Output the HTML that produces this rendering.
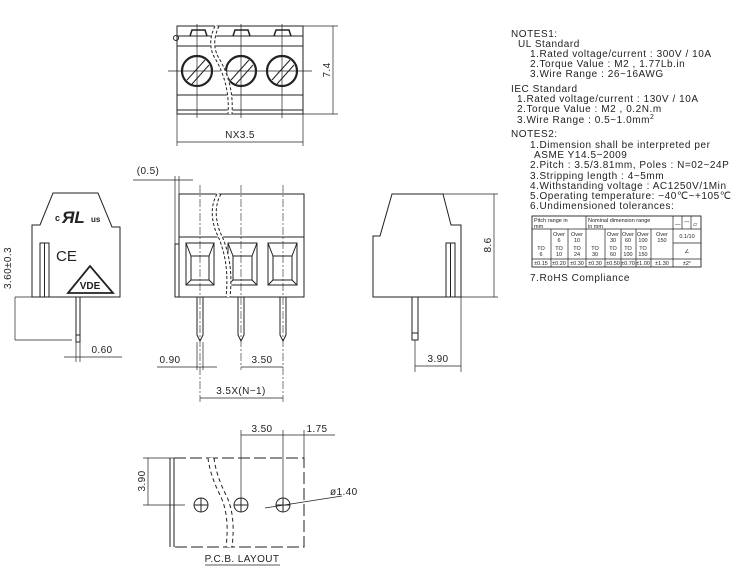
<!DOCTYPE html>
<html><head><meta charset="utf-8"><style>
html,body{margin:0;padding:0;background:#fff;}
svg{display:block;font-family:"Liberation Sans",sans-serif;}
text{fill:#222;}
</style></head><body>
<svg width="744" height="574" viewBox="0 0 744 574" xmlns="http://www.w3.org/2000/svg">
<g stroke="#222" stroke-width="1" fill="none">
<!-- TOP VIEW -->
<rect x="177" y="26" width="126" height="88"/>
<line x1="177" y1="36" x2="303" y2="36"/>
<line x1="177" y1="46" x2="303" y2="46"/>
<line x1="177" y1="95" x2="303" y2="95"/>
<line x1="177" y1="110" x2="303" y2="110"/>
<path d="M190 36 L192 30 L205 30 L207 36 M233 36 L235 30 L248 30 L250 36 M274 36 L276 30 L289 30 L291 36" stroke-width="1.5"/>
<circle cx="197" cy="71" r="15" stroke-width="2.2"/>
<circle cx="241" cy="71" r="15" stroke-width="2.2"/>
<circle cx="282" cy="71" r="15" stroke-width="2.2"/>
<path d="M187 80 L205 60 M192 84 L209 65 M231 80 L249 60 M236 84 L253 65 M272 80 L290 60 M277 84 L294 65"/>
<line x1="168" y1="71" x2="312" y2="71" stroke-width="0.7"/>
<line x1="197" y1="24" x2="197" y2="118" stroke-width="0.7"/>
<line x1="241" y1="24" x2="241" y2="118" stroke-width="0.7"/>
<line x1="282" y1="24" x2="282" y2="118" stroke-width="0.7"/>
<path d="M217 26 Q208 45 218 60 Q232 85 230 114" stroke="#fff" stroke-width="5"/>
<path d="M215 26 Q206 45 216 60 Q230 85 228 114 M219 26 Q210 45 220 60 Q234 85 232 114" stroke-dasharray="3,2"/>
<circle cx="176" cy="38" r="2.5"/>
<line x1="303" y1="26" x2="338" y2="26" stroke-width="0.7"/>
<line x1="303" y1="114" x2="338" y2="114" stroke-width="0.7"/>
<line x1="333" y1="26" x2="333" y2="114" stroke-width="0.7"/>
<line x1="177" y1="114" x2="177" y2="146" stroke-width="0.7"/>
<line x1="303" y1="114" x2="303" y2="146" stroke-width="0.7"/>
<line x1="177" y1="142" x2="303" y2="142" stroke-width="0.7"/>

<!-- LEFT VIEW -->
<path d="M53 193 L98 193 L112 227 L120 227 L120 297 L32 297 L32 225 L40 225 Z"/>
<rect x="40" y="243" width="9" height="54"/>
<line x1="44.5" y1="243" x2="44.5" y2="297"/>
<rect x="76" y="297" width="4" height="45"/>
<line x1="76" y1="335" x2="80" y2="335"/>
<line x1="15" y1="297" x2="32" y2="297" stroke-width="0.7"/>
<line x1="15" y1="340" x2="72" y2="340" stroke-width="0.7"/>
<line x1="15" y1="297" x2="15" y2="340" stroke-width="0.7"/>
<line x1="76" y1="342" x2="76" y2="362" stroke-width="0.7"/>
<line x1="80" y1="342" x2="80" y2="362" stroke-width="0.7"/>
<line x1="64" y1="357" x2="122" y2="357" stroke-width="0.7"/>
<path d="M68 293 L90 266 L113 293 Z" stroke-width="1.8"/>

<!-- MIDDLE VIEW -->
<rect x="179" y="194" width="125" height="103"/>
<line x1="179" y1="237" x2="304" y2="237"/>
<rect x="175" y="244" width="4" height="53"/>
<g>
<rect x="186" y="243" width="28" height="42"/><rect x="191" y="256" width="18" height="24"/>
<path d="M186 243 L191 256 M214 243 L209 256 M186 285 L191 280 M214 285 L209 280"/>
<rect x="228" y="243" width="29" height="42"/><rect x="233" y="256" width="19" height="24"/>
<path d="M228 243 L233 256 M257 243 L252 256 M228 285 L233 280 M257 285 L252 280"/>
<rect x="268" y="243" width="29" height="42"/><rect x="273" y="256" width="19" height="24"/>
<path d="M268 243 L273 256 M297 243 L292 256 M268 285 L273 280 M297 285 L292 280"/>
</g>
<path d="M197 297 L197 335 L200 341 L203 335 L203 297 M238 297 L238 335 L241 341 L244 335 L244 297 M280 297 L280 335 L283 341 L286 335 L286 297"/>
<path d="M219 194 Q210 210 218 232 Q232 260 228 297" stroke="#fff" stroke-width="5"/>
<path d="M217 194 Q208 210 216 232 Q230 260 226 297 M221 194 Q212 210 220 232 Q234 260 230 297" stroke-dasharray="3,2"/>
<line x1="200" y1="185" x2="200" y2="402" stroke-width="0.6" stroke-dasharray="8,2,2,2"/>
<line x1="241" y1="185" x2="241" y2="370" stroke-width="0.6" stroke-dasharray="8,2,2,2"/>
<line x1="283" y1="185" x2="283" y2="402" stroke-width="0.6" stroke-dasharray="8,2,2,2"/>
<line x1="175" y1="176" x2="175" y2="244" stroke-width="0.7"/>
<line x1="179" y1="176" x2="179" y2="194" stroke-width="0.7"/>
<line x1="133" y1="180" x2="193" y2="180" stroke-width="0.7"/>
<line x1="157" y1="367" x2="217" y2="367" stroke-width="0.7"/>
<line x1="197" y1="342" x2="197" y2="370" stroke-width="0.7"/>
<line x1="203" y1="342" x2="203" y2="370" stroke-width="0.7"/>
<line x1="241" y1="367" x2="283" y2="367" stroke-width="0.7"/>
<line x1="200" y1="398" x2="283" y2="398" stroke-width="0.7"/>

<!-- RIGHT VIEW -->
<path d="M392 194 L443 194 L451 225 L461 225 L461 297 L373 297 L373 236 L380 236 Z"/>
<rect x="446" y="243" width="9" height="54"/>
<line x1="450.5" y1="243" x2="450.5" y2="297"/>
<rect x="412" y="297" width="6" height="43"/>
<line x1="412" y1="333" x2="418" y2="333"/>
<line x1="443" y1="194" x2="498" y2="194" stroke-width="0.7"/>
<line x1="461" y1="297" x2="498" y2="297" stroke-width="0.7"/>
<line x1="494" y1="194" x2="494" y2="297" stroke-width="0.7"/>
<line x1="415" y1="340" x2="415" y2="372" stroke-width="0.7"/>
<line x1="461" y1="297" x2="461" y2="372" stroke-width="0.7"/>
<line x1="415" y1="366" x2="461" y2="366" stroke-width="0.7"/>

<!-- PCB LAYOUT -->
<path d="M174 458 L304 458 L304 547 L174 547" stroke-dasharray="12,4"/>
<line x1="170" y1="458" x2="170" y2="547"/>
<line x1="174" y1="458" x2="174" y2="547"/>
<path d="M210 458 Q212 475 222 495 Q232 515 228 547" stroke="#fff" stroke-width="6"/>
<path d="M208 458 Q210 475 220 495 Q230 515 226 547 M214 458 Q216 475 226 495 Q236 515 232 547" stroke-dasharray="4,3"/>
<circle cx="201" cy="505" r="7"/><path d="M194 505 H208 M201 498 V512"/>
<circle cx="241" cy="505" r="7"/><path d="M234 505 H248 M241 498 V512"/>
<circle cx="283" cy="505" r="7"/><path d="M276 505 H290 M283 498 V512"/>
<line x1="241" y1="430" x2="241" y2="498" stroke-width="0.7"/>
<line x1="283" y1="430" x2="283" y2="498" stroke-width="0.7"/>
<line x1="304" y1="430" x2="304" y2="458" stroke-width="0.7"/>
<line x1="241" y1="435" x2="335" y2="435" stroke-width="0.7"/>
<line x1="143" y1="458" x2="174" y2="458" stroke-width="0.7"/>
<line x1="143" y1="505" x2="185" y2="505" stroke-width="0.7"/>
<line x1="148" y1="458" x2="148" y2="505" stroke-width="0.7"/>
<line x1="265" y1="508" x2="342" y2="496" stroke-width="0.7"/>
<line x1="205" y1="565" x2="280" y2="565" stroke-width="0.7"/>

<!-- TABLE -->
<rect x="532" y="216" width="169" height="51" stroke-width="0.9"/>
<path d="M532 229 H673 M532 259 H701 M673 229 H701 M673 243 H701 M586 216 V267 M673 216 V267 M551 229 V267 M568 229 V267 M605 229 V267 M621 229 V267 M636 229 V267 M651 229 V267 M682 216 V229 M691 216 V229" stroke-width="0.7"/>
</g>

<g fill="#222" font-size="10" letter-spacing="0.4">
<text x="240" y="138" text-anchor="middle">NX3.5</text>
<text transform="translate(330,70) rotate(-90)" text-anchor="middle">7.4</text>
<text transform="translate(11,268) rotate(-90)" text-anchor="middle">3.60±0.3</text>
<text x="102" y="353" text-anchor="middle">0.60</text>
<text x="148" y="174" text-anchor="middle">(0.5)</text>
<text x="170" y="363" text-anchor="middle">0.90</text>
<text x="262" y="363" text-anchor="middle">3.50</text>
<text x="241" y="394" text-anchor="middle">3.5X(N−1)</text>
<text transform="translate(491,245) rotate(-90)" text-anchor="middle">8.6</text>
<text x="438" y="362" text-anchor="middle">3.90</text>
<text x="262" y="432" text-anchor="middle">3.50</text>
<text x="317" y="432" text-anchor="middle">1.75</text>
<text transform="translate(145,481) rotate(-90)" text-anchor="middle">3.90</text>
<text x="330" y="495">ø1.40</text>
<text x="242" y="562" text-anchor="middle">P.C.B. LAYOUT</text>
</g>
<g fill="#222">
<text x="55" y="221" font-size="9" font-weight="bold">c</text>
<text x="62" y="223" font-size="17" font-weight="bold" font-style="italic">ЯL</text>
<text x="91" y="222" font-size="8" font-weight="bold">us</text>
<text x="56" y="261" font-size="15">CE</text>
<text x="90" y="289" font-size="10" font-weight="bold" text-anchor="middle">VDE</text>
</g>

<g fill="#222" font-size="10" letter-spacing="0.55">
<text x="511" y="37">NOTES1:</text>
<text x="518" y="47">UL Standard</text>
<text x="530" y="57">1.Rated voltage/current : 300V / 10A</text>
<text x="530" y="67">2.Torque Value : M2 , 1.77Lb.in</text>
<text x="530" y="77">3.Wire Range : 26~16AWG</text>
<text x="511" y="92">IEC Standard</text>
<text x="517" y="102">1.Rated voltage/current : 130V / 10A</text>
<text x="517" y="112">2.Torque Value : M2 , 0.2N.m</text>
<text x="517" y="123">3.Wire Range : 0.5~1.0mm<tspan font-size="7" dy="-4">2</tspan></text>
<text x="511" y="137">NOTES2:</text>
<text x="530" y="148">1.Dimension shall be interpreted per</text>
<text x="534" y="158">ASME Y14.5−2009</text>
<text x="530" y="168">2.Pitch : 3.5/3.81mm, Poles : N=02~24P</text>
<text x="530" y="179">3.Stripping length : 4~5mm</text>
<text x="530" y="189">4.Withstanding voltage : AC1250V/1Min</text>
<text x="530" y="199">5.Operating temperature: −40℃~+105℃</text>
<text x="530" y="209">6.Undimensioned tolerances:</text>
<text x="530" y="281">7.RoHS Compliance</text>
</g>
<g fill="#222" font-size="5.5">
<text x="534" y="222">Pitch range in</text><text x="534" y="228">mm</text>
<text x="588" y="222">Nominal dimension range</text><text x="588" y="228">in mm</text>
<text x="541" y="250" text-anchor="middle">TO</text><text x="541" y="256" text-anchor="middle">6</text>
<text x="559" y="236" text-anchor="middle">Over</text><text x="559" y="242" text-anchor="middle">6</text><text x="559" y="250" text-anchor="middle">TO</text><text x="559" y="256" text-anchor="middle">10</text>
<text x="577" y="236" text-anchor="middle">Over</text><text x="577" y="242" text-anchor="middle">10</text><text x="577" y="250" text-anchor="middle">TO</text><text x="577" y="256" text-anchor="middle">24</text>
<text x="595" y="250" text-anchor="middle">TO</text><text x="595" y="256" text-anchor="middle">30</text>
<text x="613" y="236" text-anchor="middle">Over</text><text x="613" y="242" text-anchor="middle">30</text><text x="613" y="250" text-anchor="middle">TO</text><text x="613" y="256" text-anchor="middle">60</text>
<text x="628" y="236" text-anchor="middle">Over</text><text x="628" y="242" text-anchor="middle">60</text><text x="628" y="250" text-anchor="middle">TO</text><text x="628" y="256" text-anchor="middle">100</text>
<text x="643" y="236" text-anchor="middle">Over</text><text x="643" y="242" text-anchor="middle">100</text><text x="643" y="250" text-anchor="middle">TO</text><text x="643" y="256" text-anchor="middle">150</text>
<text x="662" y="236" text-anchor="middle">Over</text><text x="662" y="242" text-anchor="middle">150</text>
<text x="687" y="238" text-anchor="middle">0.1/10</text>
<text x="687" y="253" text-anchor="middle">∠</text>
<text x="541" y="265" text-anchor="middle">±0.15</text><text x="559" y="265" text-anchor="middle">±0.20</text><text x="577" y="265" text-anchor="middle">±0.30</text><text x="595" y="265" text-anchor="middle">±0.30</text><text x="613" y="265" text-anchor="middle">±0.50</text><text x="628" y="265" text-anchor="middle">±0.70</text><text x="643" y="265" text-anchor="middle">±1.00</text><text x="662" y="265" text-anchor="middle">±1.30</text><text x="687" y="265" text-anchor="middle">±2°</text>
<text x="675" y="226">—</text><text x="684" y="226">⌒</text><text x="693" y="226">▱</text>
</g>
</svg>
</body></html>
